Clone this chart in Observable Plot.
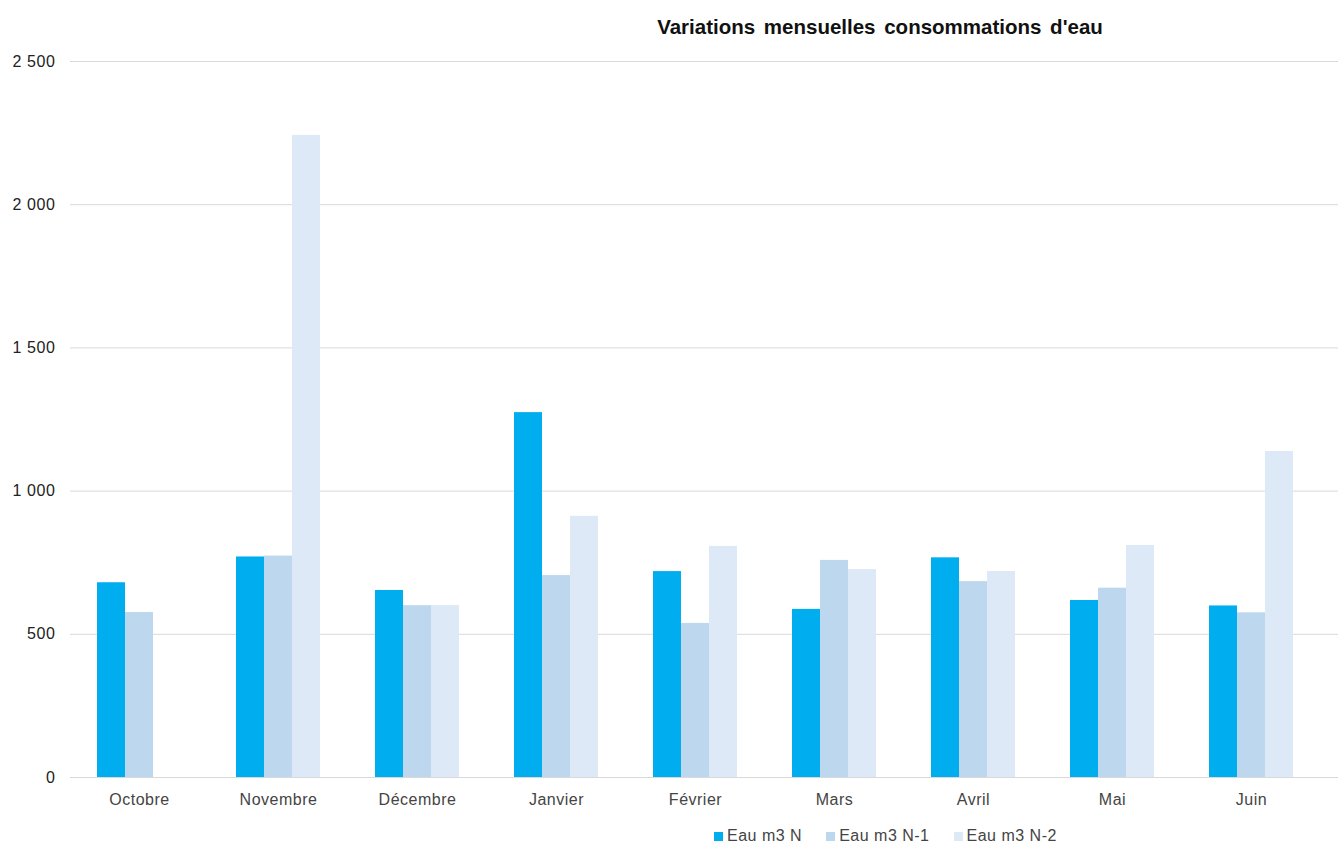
<!DOCTYPE html>
<html>
<head>
<meta charset="utf-8">
<script src="https://cdn.jsdelivr.net/npm/d3@7"></script>
<script src="https://cdn.jsdelivr.net/npm/@observablehq/plot@0.6"></script>
<style>
  html, body { margin: 0; padding: 0; background: #fff; }
  #wrap { position: relative; width: 1338px; height: 848px; font-family: "Liberation Sans", Arial, sans-serif; }
  #title { position: absolute; top: 15px; left: 880px; transform: translateX(-50%); font-size: 20.5px; font-weight: bold; line-height: 24px; color: #111; white-space: nowrap; word-spacing: 3px; }
  .layer { position: absolute; left: 0; top: 0; }
  #legend { position: absolute; top: 826px; left: 714px; display: flex; gap: 24px; font-size: 16px; line-height: 20px; color: #444; white-space: nowrap; letter-spacing: 0.5px; }
  #legend .item { display: flex; align-items: center; gap: 4px; }
  #legend .sw { width: 9px; height: 9px; display: inline-block; }
</style>
</head>
<body>
<div id="wrap">
  <div id="grid" class="layer"></div>
  <div id="chart" class="layer"></div>
  <div id="title">Variations mensuelles consommations d'eau</div>
  <div id="legend"></div>
</div>
<script>
const months = ["Octobre", "Novembre", "Décembre", "Janvier", "Février", "Mars", "Avril", "Mai", "Juin"];
const seriesNames = ["Eau m3 N", "Eau m3 N-1", "Eau m3 N-2"];
const valuesN  = [680, 770, 653, 1274, 719, 587, 767, 618, 599];
const valuesN1 = [576, 773, 600, 705, 538, 758, 684, 661, 575];
const valuesN2 = [null, 2242, 600, 912, 807, 726, 719, 810, 1138];
const yTicks = [0, 500, 1000, 1500, 2000, 2500];
const seriesColors = ["#00aeef", "#bdd7ee", "#dde9f6"];

const seriesValues = [valuesN, valuesN1, valuesN2];
const rows = [];
months.forEach((m, i) => {
  seriesNames.forEach((s, j) => {
    const v = seriesValues[j][i];
    if (v != null) rows.push({month: m, series: s, value: v});
  });
});

const fmt = d => d3.format(",")(d).replace(/,/g, " ");
const common = {
  width: 1338,
  height: 848,
  marginTop: 61,
  marginBottom: 71,
  marginLeft: 70,
  marginRight: 17,
  style: { fontSize: "16px", fontFamily: "Liberation Sans, Arial, sans-serif", background: "transparent" }
};

// Background layer: y axis and gridlines spanning the full width
const gridPlot = Plot.plot({
  ...common,
  y: { domain: [0, 2500], ticks: yTicks, tickFormat: fmt, tickSize: 0, tickPadding: 15, label: null },
  marks: [
    Plot.ruleY(yTicks, { stroke: "#d9d9d9", strokeWidth: 1, insetRight: -17 })
  ]
});
gridPlot.querySelectorAll('[aria-label="y-axis tick label"]').forEach(e => { e.setAttribute("fill", "#222"); e.setAttribute("letter-spacing", "0.6"); });
document.getElementById("grid").appendChild(gridPlot);

// Foreground layer: grouped bars
const chart = Plot.plot({
  ...common,
  fx: { domain: months, paddingInner: 0.38, paddingOuter: 0.19, label: null, axis: "bottom", tickSize: 0, tickPadding: 16 },
  x: { domain: seriesNames, axis: null, padding: 0 },
  y: { domain: [0, 2500], axis: null },
  color: { domain: seriesNames, range: seriesColors },
  marks: [
    Plot.barY(rows, { fx: "month", x: "series", y: "value", fill: "series" })
  ]
});
chart.querySelectorAll('[aria-label="fx-axis tick label"]').forEach(e => { e.setAttribute("fill", "#444"); e.setAttribute("letter-spacing", "0.5"); });
document.getElementById("chart").appendChild(chart);

const legend = document.getElementById("legend");
seriesNames.forEach((s, j) => {
  const item = document.createElement("span");
  item.className = "item";
  const sw = document.createElement("span");
  sw.className = "sw";
  sw.style.background = seriesColors[j];
  const t = document.createElement("span");
  t.textContent = s;
  item.appendChild(sw);
  item.appendChild(t);
  legend.appendChild(item);
});
</script>
</body>
</html>
